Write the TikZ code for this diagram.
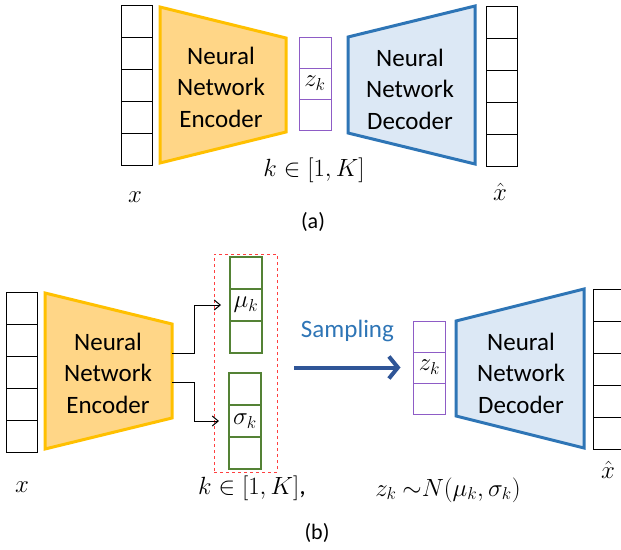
\documentclass[tikz,border=0pt]{standalone}
\usepackage{amsmath}
\usepackage{fontspec}
\setmainfont{Carlito}
\usetikzlibrary{arrows.meta,positioning,fit}

\definecolor{encfill}{HTML}{FFD687}
\definecolor{encline}{HTML}{FFC000}
\definecolor{decfill}{HTML}{DCE8F5}
\definecolor{decline}{HTML}{2E75B6}
\definecolor{latline}{HTML}{8E5CC6}
\definecolor{gaussline}{HTML}{548235}
\definecolor{samparrow}{HTML}{2F5597}

\begin{document}
\begin{tikzpicture}[
    x=1pt, y=-1pt,
    cell/.style={rectangle, draw=black, line width=0.9pt, minimum width=31pt, minimum height=32pt, inner sep=0pt, outer sep=0pt, font=\fontsize{25}{30}\selectfont},
    zcell/.style={cell, draw=latline, minimum width=32pt, minimum height=31pt},
    gcell/.style={cell, draw=gaussline, line width=1.2pt, minimum width=32pt},
    enc/.style={draw=encline, fill=encfill, line width=3pt},
    dec/.style={draw=decline, fill=decfill, line width=3pt},
    nn/.style={align=center, font=\fontsize{25}{31.5}\selectfont},
    lbl/.style={font=\fontsize{26}{30}\selectfont},
    captext/.style={font=\fontsize{22}{26}\selectfont}
]
\useasboundingbox (0,0) rectangle (621,549);

% ---------- (a) plain autoencoder ----------
% Input column
\node[cell] (xa1) at (136.5,21) {};
\foreach \i in {2,...,5} {
    \pgfmathtruncatemacro{\p}{\i-1}
    \node[cell, below=0pt of xa\p] (xa\i) {};
}

% Encoder
\draw[enc] (160,7) -- (286,38) -- (286,132) -- (160,163) -- cycle;
\node[nn] (enca) at (221,87) {Neural\\Network\\Encoder};

% Latent code
\node[zcell] (za1) at (315,52.5) {};
\node[zcell, below=0pt of za1] (za2) {$z_k$};
\node[zcell, below=0pt of za2] (za3) {};
\node[lbl] (ka) at (314,170) {$k \in [1,K]$};

% Decoder
\draw[dec] (348,37) -- (475,6) -- (475,164) -- (348,133) -- cycle;
\node[nn] (deca) at (410,89) {Neural\\Network\\Decoder};

% Output column
\node[cell] (ya1) at (501.5,22) {};
\foreach \i in {2,...,5} {
    \pgfmathtruncatemacro{\p}{\i-1}
    \node[cell, below=0pt of ya\p] (ya\i) {};
}

\node[lbl] (xlaba) at (135,197) {$x$};
\node[lbl] (ylaba) at (500,192) {$\hat{x}$};
\node[captext] (capa) at (313,222) {(a)};

% ---------- (b) variational autoencoder ----------
% Input column
\node[cell] (xb1) at (22,308) {};
\foreach \i in {2,...,5} {
    \pgfmathtruncatemacro{\p}{\i-1}
    \node[cell, below=0pt of xb\p] (xb\i) {};
}

% Encoder
\draw[enc] (45,293) -- (172,324) -- (172,418) -- (45,449) -- cycle;
\node[nn] (encb) at (108,373) {Neural\\Network\\Encoder};
\coordinate (encb-up) at (172,353);
\coordinate (encb-dn) at (172,382);

% Mean and deviation
\node[gcell] (mu1) at (246,273) {};
\node[gcell, below=0pt of mu1] (mu2) {$\mu_k$};
\node[gcell, below=0pt of mu2] (mu3) {};
\node[gcell] (sg1) at (245,389) {};
\node[gcell, below=0pt of sg1] (sg2) {$\sigma_k$};
\node[gcell, below=0pt of sg2] (sg3) {};
\node[draw=red!75, dashed, line width=0.8pt, inner xsep=15pt, inner ysep=3pt, fit=(mu1)(sg3)] (gbox) {};

\draw[line width=1pt, -{Straight Barb[length=6pt, width=10pt]}] (encb-up) -- ++(22,0) |- ([xshift=-9pt]mu2.west);
\draw[line width=1pt, -{Straight Barb[length=6pt, width=10pt]}] (encb-dn) -- ++(22,0) |- ([xshift=-10pt]sg2.west);
\node[lbl] (kb) at (252,488) {$k \in [1,K]$,};

% Latent code
\node[zcell] (zb1) at (429.5,336.5) {};
\node[zcell, below=0pt of zb1] (zb2) {$z_k$};
\node[zcell, below=0pt of zb2] (zb3) {};

% Sampling
\draw[samparrow, line width=4pt, -{Straight Barb[length=9pt, width=22pt]}]
    ([xshift=17pt]gbox.east |- zb2.west) -- ([xshift=-13pt]zb2.west)
    node[midway, above=20pt, text=decline, font=\fontsize{25}{30}\selectfont] {Sampling};

% Decoder
\draw[dec] (456,321) -- (584,289) -- (584,448) -- (456,416) -- cycle;
\node[nn] (decb) at (521,373) {Neural\\Network\\Decoder};

% Output column
\node[cell] (yb1) at (609,305) {};
\foreach \i in {2,...,5} {
    \pgfmathtruncatemacro{\p}{\i-1}
    \node[cell, below=0pt of yb\p] (yb\i) {};
}

\node[lbl] (xlabb) at (22,487) {$x$};
\node[lbl] (ylabb) at (608,470) {$\hat{x}$};
\node[lbl] (dist) at (448,490) {$z_k\ {\sim}N(\mu_k,\sigma_k)$};
\node[captext] (capb) at (317,533) {(b)};

\end{tikzpicture}
\end{document}
